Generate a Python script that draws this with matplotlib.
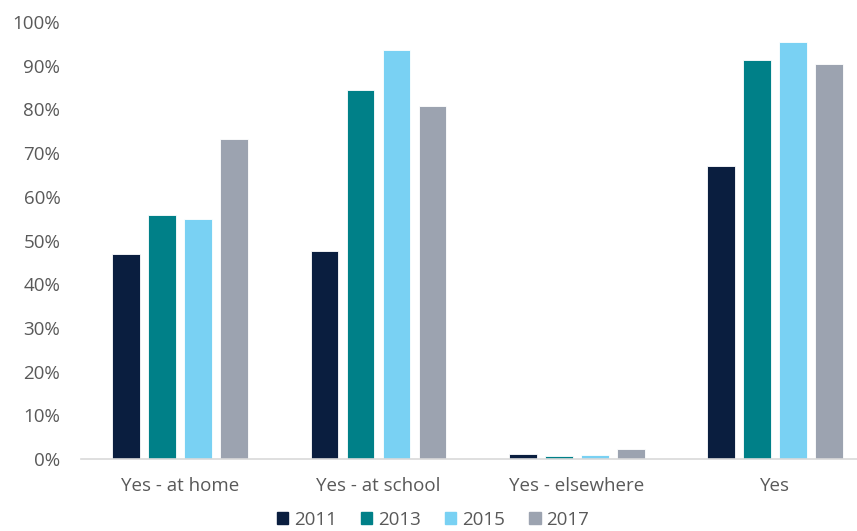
import matplotlib
matplotlib.use("Agg")
import matplotlib.pyplot as plt
import numpy as np
from matplotlib.ticker import PercentFormatter

categories = ["Yes - at home", "Yes - at school", "Yes - elsewhere", "Yes"]
years = ["2011", "2013", "2015", "2017"]
v2011 = [46.9, 47.7, 1.1, 67.0]
v2013 = [55.8, 84.4, 0.6, 91.3]
v2015 = [55.0, 93.5, 0.85, 95.4]
v2017 = [73.3, 80.7, 2.2, 90.5]
series = [v2011, v2013, v2015, v2017]
colors = ["#0A1E3F", "#008088", "#79D1F3", "#9CA3B0"]

plt.rcParams['font.family'] = ['Open Sans', 'DejaVu Sans']
fig = plt.figure(figsize=(8.57, 5.31), dpi=100)
ax = fig.add_axes([81.2/857, 1-459/531, 792.8/857, (459-22)/531])

x = np.arange(len(categories))
step = 0.1816
width = 0.141
for i, (yr, vals, c) in enumerate(zip(years, series, colors)):
    ax.bar(x + (i - 1.5) * step, vals, width=width, color=c, label=yr,
           edgecolor="white", linewidth=0.6)

ax.set_xlim(-0.5, len(categories) - 0.5)
ax.set_ylim(0, 100)
ax.set_yticks(np.arange(0, 101, 10))
ax.yaxis.set_major_formatter(PercentFormatter(decimals=0))
ax.set_xticks(x)
ax.set_xticklabels(categories)
for s in ["top", "right", "left"]:
    ax.spines[s].set_visible(False)
ax.spines["bottom"].set_color("#D9D9D9")
ax.spines["bottom"].set_linewidth(1.2)
ax.tick_params(axis="both", length=0, labelsize=13.5, colors="#595959")
ax.tick_params(axis="y", pad=15)
ax.tick_params(axis="x", pad=13)

handles = [plt.Rectangle((0, 0), 1, 1, color=c) for c in colors]
fig.legend(handles, years, loc="center", bbox_to_anchor=(433/857, 1-520/531),
           ncol=4, frameon=False, fontsize=13.5, handlelength=0.6, handleheight=0.6,
           columnspacing=1.3, handletextpad=0.3, labelcolor="#595959",
           borderpad=0.1)

fig.savefig("out.png", dpi=100)
